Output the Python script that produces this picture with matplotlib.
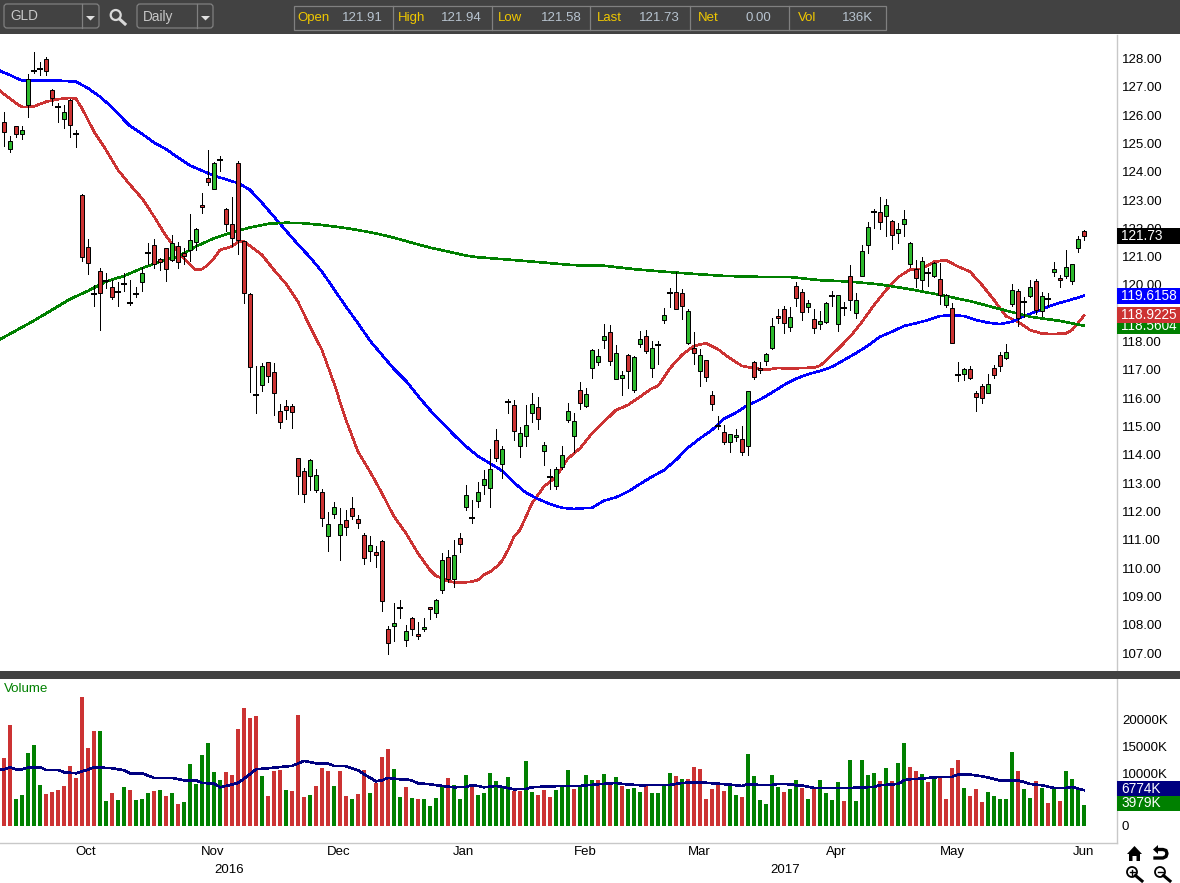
import matplotlib
matplotlib.use('Agg')
import matplotlib.pyplot as plt
from matplotlib.patches import Rectangle, FancyBboxPatch, Circle, Polygon

plt.rcParams['font.family'] = ['Liberation Sans', 'DejaVu Sans']

# Daily GLD candles, one value per session
opens = [125.75, 124.82, 125.63, 125.33, 126.34, 127.57, 127.64, 127.97, 126.88, 126.27,
         125.85, 126.53, 125.32, 123.17, 121.33, 119.69, 120.49, 120.14, 119.92, 119.76,
         120.02, 119.36, 119.67, 120.09, 121.14, 121.40, 120.91, 121.30, 120.89, 121.36,
         121.12, 121.22, 121.51, 122.82, 123.77, 123.38, 124.40, 122.68, 122.15, 124.30,
         121.55, 119.67, 116.12, 116.46, 117.27, 116.92, 115.54, 115.71, 115.71, 113.88,
         113.42, 113.24, 112.75, 112.68, 111.12, 111.90, 111.16, 111.69, 112.11, 111.72,
         111.16, 110.59, 110.56, 110.95, 107.84, 107.94, 108.58, 107.45, 108.23, 107.66,
         107.84, 108.61, 108.40, 109.21, 110.38, 109.60, 111.05, 112.15, 111.77, 112.38,
         112.92, 112.84, 114.51, 113.67, 115.87, 115.75, 114.32, 114.65, 115.49, 115.68,
         114.12, 113.23, 112.91, 113.58, 115.24, 114.65, 116.28, 115.71, 117.06, 117.29,
         118.07, 118.33, 116.67, 116.73, 117.51, 116.30, 117.93, 118.19, 117.06, 117.88,
         118.75, 119.73, 119.74, 119.70, 117.96, 117.76, 116.95, 117.34, 116.13, 115.03,
         114.79, 114.44, 114.62, 114.55, 114.30, 117.27, 117.05, 117.30, 117.76, 118.89,
         119.14, 118.50, 119.95, 119.74, 119.21, 118.79, 118.61, 118.68, 119.62, 118.61,
         119.20, 120.31, 119.02, 120.33, 121.40, 122.59, 122.57, 122.42, 122.25, 121.82,
         122.14, 120.75, 120.55, 120.19, 120.41, 120.32, 120.20, 119.29, 119.17, 116.81,
         116.87, 117.02, 116.17, 116.42, 116.20, 117.05, 117.51, 117.43, 119.34, 119.77,
         119.40, 119.62, 120.13, 119.07, 119.52, 120.47, 120.23, 120.31, 120.15, 121.32,
         121.91]
closes = [125.40, 125.08, 125.33, 125.47, 127.29, 127.57, 127.64, 127.57, 126.62, 126.27,
          126.10, 125.64, 125.32, 120.98, 120.79, 119.69, 119.73, 120.14, 119.56, 119.76,
          120.02, 119.36, 119.67, 120.42, 121.14, 120.74, 120.82, 120.56, 121.47, 120.80,
          121.02, 121.58, 121.97, 122.75, 123.65, 124.30, 124.40, 122.15, 121.65, 121.58,
          119.73, 117.09, 116.12, 117.13, 116.77, 116.17, 115.15, 115.57, 115.52, 113.24,
          112.61, 113.81, 113.28, 111.76, 111.55, 112.15, 111.55, 111.44, 111.83, 111.58,
          110.37, 110.81, 110.45, 108.83, 107.35, 108.05, 108.58, 107.77, 107.84, 107.59,
          107.91, 108.54, 108.86, 110.27, 109.60, 110.45, 110.84, 112.57, 111.77, 112.68,
          113.13, 113.49, 113.90, 114.19, 115.87, 114.85, 114.76, 115.04, 115.78, 115.25,
          114.33, 113.23, 113.49, 113.98, 115.54, 115.18, 115.84, 116.14, 117.69, 117.48,
          118.19, 117.30, 117.59, 116.81, 116.95, 117.44, 118.08, 117.68, 117.76, 117.88,
          118.93, 119.73, 119.14, 119.25, 119.07, 117.59, 117.51, 116.74, 115.78, 115.03,
          114.47, 114.72, 114.71, 114.11, 116.24, 116.74, 116.98, 117.55, 118.54, 118.82,
          118.67, 118.86, 119.53, 119.03, 119.35, 118.47, 118.72, 119.35, 119.62, 119.63,
          119.20, 119.46, 119.46, 121.19, 122.04, 122.59, 122.24, 122.81, 121.75, 121.97,
          122.32, 121.47, 120.26, 120.84, 120.41, 120.76, 119.66, 119.66, 117.96, 116.81,
          117.02, 116.73, 116.06, 116.02, 116.49, 116.83, 117.13, 117.65, 119.81, 118.82,
          119.40, 119.92, 119.13, 119.60, 119.52, 120.55, 120.16, 120.62, 120.73, 121.61,
          121.73]
highs = [126.10, 125.27, 125.63, 125.62, 127.44, 128.23, 127.88, 128.04, 126.93, 126.42,
         126.35, 126.58, 125.48, 123.21, 121.63, 120.00, 120.60, 120.42, 120.18, 120.11,
         120.42, 120.18, 119.92, 120.65, 121.47, 121.63, 120.94, 121.32, 121.76, 121.53,
         121.30, 122.50, 122.00, 123.24, 124.77, 124.33, 124.56, 122.71, 123.10, 124.38,
         121.55, 119.71, 117.14, 117.23, 117.28, 117.23, 115.80, 115.94, 115.80, 113.88,
         113.52, 113.84, 113.50, 112.78, 111.97, 112.32, 112.11, 112.05, 112.51, 111.86,
         111.23, 111.12, 110.77, 110.98, 107.97, 108.76, 108.87, 107.98, 108.28, 108.10,
         108.24, 108.64, 108.90, 110.52, 110.64, 110.99, 111.23, 112.94, 112.41, 113.05,
         113.46, 114.19, 114.93, 114.31, 115.96, 115.92, 114.97, 115.76, 116.17, 116.04,
         114.44, 113.49, 113.56, 114.31, 115.82, 115.48, 116.56, 116.35, 117.75, 117.74,
         118.61, 118.57, 117.87, 116.96, 117.56, 117.49, 118.37, 118.41, 118.01, 118.01,
         119.17, 119.88, 120.46, 119.85, 119.14, 118.33, 117.73, 117.35, 116.24, 115.37,
         115.04, 114.74, 114.91, 115.02, 116.24, 117.30, 117.27, 117.60, 118.82, 119.14,
         119.26, 119.22, 120.09, 119.86, 119.46, 119.14, 119.08, 119.40, 119.78, 119.63,
         119.41, 120.70, 119.72, 121.41, 122.21, 122.67, 123.11, 123.04, 122.30, 122.18,
         122.65, 121.51, 120.88, 120.98, 120.59, 120.80, 120.78, 119.67, 119.35, 117.27,
         117.06, 117.13, 116.25, 116.49, 116.84, 117.16, 117.62, 117.90, 120.03, 119.85,
         119.56, 120.17, 120.20, 119.74, 119.72, 120.81, 120.35, 121.22, 120.75, 121.72,
         121.94]
lows = [124.92, 124.68, 125.24, 125.17, 125.95, 127.50, 127.43, 127.43, 126.34, 125.74,
        125.55, 125.24, 124.89, 120.86, 120.39, 119.24, 118.41, 119.90, 119.52, 119.26,
        119.80, 119.29, 119.59, 119.80, 120.74, 120.60, 120.53, 120.14, 120.86, 120.61,
        120.74, 120.83, 121.22, 122.56, 123.54, 123.38, 124.04, 121.89, 121.36, 121.10,
        119.38, 116.23, 115.49, 116.27, 116.57, 115.41, 114.96, 115.28, 114.96, 112.62,
        112.35, 112.76, 112.67, 111.50, 110.62, 111.78, 110.29, 111.17, 111.73, 111.43,
        110.15, 110.26, 110.05, 108.50, 106.98, 107.44, 108.23, 107.26, 107.65, 107.48,
        107.79, 108.21, 108.28, 109.13, 109.52, 109.34, 110.58, 112.05, 111.58, 112.17,
        112.61, 112.17, 113.78, 113.17, 115.49, 114.52, 113.93, 114.31, 115.16, 114.92,
        113.64, 112.81, 112.81, 113.49, 115.16, 114.10, 115.63, 115.68, 116.73, 117.18,
        117.77, 117.18, 116.67, 116.12, 116.36, 116.22, 117.82, 117.61, 116.76, 117.22,
        118.67, 119.23, 119.14, 118.81, 117.91, 117.21, 116.43, 116.62, 115.58, 114.92,
        114.39, 114.10, 114.50, 114.01, 114.01, 116.69, 116.90, 117.18, 117.74, 118.67,
        118.32, 118.39, 119.27, 118.76, 119.05, 118.32, 118.45, 118.67, 119.26, 118.39,
        118.94, 119.12, 118.83, 120.32, 121.14, 122.03, 121.97, 121.74, 121.28, 121.50,
        121.74, 120.65, 119.94, 119.86, 119.96, 120.27, 119.33, 119.23, 117.94, 116.61,
        116.64, 116.67, 115.55, 115.84, 116.17, 116.73, 116.96, 117.40, 119.27, 118.56,
        118.88, 119.56, 118.98, 118.91, 119.27, 120.32, 119.94, 120.26, 120.03, 121.17,
        121.58]

# Volume in thousands of shares, r/g is the colour of each bar
volumes = [12915, 19026, 5040, 5796, 13734, 15246, 7686, 5985, 6363, 6741,
           7497, 11277, 9009, 24318, 14679, 17892, 17892, 4662, 6174, 4851,
           7308, 6741, 4851, 5040, 6174, 6552, 6741, 5607, 6174, 4095,
           4473, 11655, 7875, 13356, 15624, 10143, 8631, 10143, 9576, 18270,
           22239, 20349, 20727, 9387, 5607, 10332, 10521, 6741, 6552, 20916,
           5418, 5796, 7497, 10899, 10332, 7497, 10332, 5607, 5040, 5985,
           10521, 6174, 8064, 12978, 14490, 10710, 5418, 7308, 5229, 5040,
           5040, 3717, 5229, 7686, 9009, 7686, 5040, 9576, 7497, 5796,
           6174, 9954, 8442, 7119, 9198, 6552, 6552, 12222, 6363, 5796,
           6741, 5418, 6741, 7497, 10521, 6930, 7497, 9576, 8631, 8631,
           9765, 8253, 9198, 7497, 6930, 7119, 6363, 7686, 6174, 6174,
           7686, 9954, 9387, 8820, 8820, 11088, 10710, 5040, 6930, 7686,
           6552, 7686, 5796, 5418, 13545, 9387, 4851, 4095, 9576, 7308,
           6363, 6930, 8631, 7119, 5040, 6930, 8631, 6174, 4851, 8253,
           4662, 12411, 4662, 12411, 9576, 9954, 8442, 10899, 8442, 11844,
           15624, 11088, 10332, 9765, 8253, 9198, 9198, 5040, 10899, 12411,
           7119, 5607, 6930, 4473, 6363, 5607, 5040, 5040, 13923, 10332,
           6930, 5229, 8442, 7119, 4284, 6930, 4662, 10332, 8820, 7119,
           3979]
volume_dirs = ('rrgggggrrr' 'rrrrrrggrg' 'grgggrgrgr' 'gggggggrrr' 'rrrgrrrgrr'
               'rgrrrgrrgr' 'rgrrrggrgr' 'ggggrgggrg' 'gggggrrggr' 'rrgggrgggr'
               'grgrgggrgg' 'ggrgrrrrrr' 'rggrgggggg' 'rggrgrgggg' 'rgggggrgrg'
               'grrgrgrrrr' 'grrrgggggr' 'ggrgrgrggg' 'g')

# Moving averages, sampled along the curves: session index and value
red_idx = [-1, 0, 2, 3, 4, 5, 7, 9, 11, 12, 13, 15, 17, 19, 21, 23, 25, 27, 29, 31, 32, 33, 34,
           35, 36, 37, 38, 39, 40, 41, 43, 45, 47, 49, 51, 53, 55, 57, 59, 61, 63, 65, 67, 69,
           71, 72, 73, 74, 75, 77, 78, 79, 80, 81, 82, 83, 84, 85, 86, 87, 88, 90, 91, 92, 94,
           96, 98, 100, 102, 104, 106, 108, 109, 111, 113, 115, 117, 119, 121, 123, 125, 127,
           129, 131, 133, 135, 136, 137, 139, 141, 143, 145, 147, 149, 151, 153, 155, 157, 159,
           161, 163, 165, 167, 169, 171, 173, 175, 177, 178, 179, 180]
red_ma = [126.91, 126.74, 126.42, 126.29, 126.29, 126.31, 126.47, 126.56, 126.61, 126.58, 126.24,
          125.42, 124.77, 124.06, 123.54, 123.06, 122.42, 121.73, 121.18, 120.71, 120.53, 120.56,
          120.71, 120.94, 121.24, 121.30, 121.36, 121.53, 121.53, 121.38, 121.06, 120.53, 120.04,
          119.41, 118.53, 117.70, 116.53, 115.23, 114.11, 113.41, 112.64, 111.82, 111.23, 110.52,
          109.93, 109.72, 109.64, 109.54, 109.50, 109.50, 109.52, 109.58, 109.76, 109.87, 110.03,
          110.25, 110.64, 111.11, 111.35, 111.82, 112.29, 112.88, 113.05, 113.23, 113.87, 114.23,
          114.76, 115.17, 115.58, 115.76, 116.05, 116.35, 116.43, 117.06, 117.53, 117.85, 117.94,
          117.73, 117.41, 117.14, 117.06, 117.00, 117.07, 117.04, 117.07, 117.08, 117.15, 117.33,
          117.74, 118.17, 118.70, 119.29, 119.82, 120.27, 120.55, 120.57, 120.82, 120.88, 120.65,
          120.47, 120.00, 119.47, 118.90, 118.70, 118.41, 118.28, 118.27, 118.29, 118.41, 118.65,
          118.92]

blue_idx = [-1, 0, 1, 2, 3, 4, 8, 10, 12, 14, 16, 18, 20, 21, 23, 25, 27, 29, 31, 33, 35, 37, 39,
            41, 43, 45, 47, 49, 51, 53, 55, 57, 59, 61, 63, 65, 67, 69, 71, 73, 75, 77, 79, 81,
            83, 85, 87, 89, 91, 93, 95, 97, 98, 100, 102, 104, 106, 108, 110, 112, 114, 116,
            118, 120, 122, 124, 126, 128, 130, 132, 134, 136, 138, 140, 142, 144, 146, 148, 150,
            152, 154, 156, 158, 160, 162, 164, 166, 168, 170, 172, 174, 176, 178, 180]
blue_ma = [127.60, 127.50, 127.42, 127.31, 127.23, 127.22, 127.22, 127.21, 127.18, 126.95, 126.65,
           126.28, 125.83, 125.62, 125.34, 125.03, 124.80, 124.50, 124.22, 124.04, 123.86, 123.73,
           123.60, 123.36, 122.90, 122.41, 121.92, 121.43, 120.98, 120.47, 119.85, 119.23, 118.65,
           118.03, 117.53, 117.03, 116.61, 116.08, 115.58, 115.15, 114.70, 114.30, 113.95, 113.70,
           113.44, 113.02, 112.66, 112.44, 112.26, 112.13, 112.09, 112.12, 112.13, 112.38, 112.50,
           112.70, 112.97, 113.23, 113.46, 113.82, 114.25, 114.58, 114.88, 115.27, 115.49, 115.76,
           115.95, 116.20, 116.47, 116.69, 116.85, 116.96, 117.11, 117.35, 117.59, 117.86, 118.17,
           118.35, 118.55, 118.65, 118.76, 118.90, 118.94, 118.90, 118.76, 118.67, 118.62, 118.70,
           118.90, 119.06, 119.23, 119.37, 119.49, 119.62]

green_idx = [-1, 2, 5, 8, 11, 14, 17, 20, 23, 26, 29, 32, 35, 38, 41, 44, 47, 50, 53, 56, 59, 62,
             65, 68, 71, 74, 77, 79, 85, 90, 95, 100, 105, 110, 115, 120, 125, 131, 136, 141, 146,
             151, 156, 161, 166, 171, 176, 180]
green_ma = [118.04, 118.39, 118.74, 119.12, 119.50, 119.79, 120.12, 120.32, 120.59, 120.83, 121.00,
            121.36, 121.65, 121.86, 122.03, 122.16, 122.20, 122.18, 122.12, 122.04, 121.94, 121.82,
            121.67, 121.49, 121.32, 121.18, 121.04, 120.98, 120.88, 120.79, 120.70, 120.68, 120.56,
            120.47, 120.39, 120.32, 120.29, 120.28, 120.17, 120.12, 120.02, 119.85, 119.65, 119.43,
            119.15, 118.88, 118.73, 118.56]

vol_ma_idx = [-1, 0, 1, 2, 3, 4, 6, 7, 9, 10, 12, 14, 15, 18, 20, 21, 23, 25, 28, 30, 32, 33, 35,
              36, 38, 39, 41, 42, 44, 48, 49, 50, 52, 54, 55, 57, 59, 60, 62, 63, 64, 66, 67, 68,
              69, 71, 73, 75, 77, 78, 79, 80, 82, 83, 85, 87, 88, 91, 96, 99, 102, 103, 106, 111,
              113, 116, 118, 121, 122, 123, 124, 126, 128, 129, 131, 132, 133, 135, 141, 145, 146,
              149, 150, 151, 153, 155, 158, 159, 161, 163, 165, 166, 169, 171, 173, 175, 177, 178,
              179, 180]
vol_ma = [10710, 10710, 11088, 10710, 10710, 11025, 11088, 10584, 10584, 10143, 9954, 10647, 11088,
          10899, 10521, 9954, 9954, 9072, 9072, 8631, 8631, 8127, 8001, 7308, 7812, 8127, 9765,
          10710, 10899, 11340, 11781, 12285, 11844, 11781, 11340, 11277, 10521, 9765, 8442, 8631,
          9072, 8820, 8820, 8568, 8064, 7875, 7560, 7308, 7371, 7686, 7560, 7308, 7560, 7371, 6930,
          6993, 7308, 7497, 7560, 7875, 8127, 7938, 7686, 7749, 8127, 8253, 8064, 7812, 7686, 7560,
          7875, 7749, 7749, 7938, 7875, 7686, 7623, 7182, 7182, 7371, 7686, 7938, 8631, 8820, 8946,
          9198, 9261, 9702, 9702, 9387, 8883, 8568, 8631, 7938, 7686, 7182, 7182, 7371, 7056, 6774]

month_labels = ['Oct', 'Nov', 'Dec', 'Jan', 'Feb', 'Mar', 'Apr', 'May', 'Jun']
month_pos = [13.67, 34.83, 55.83, 76.5, 96.83, 115.83, 138.67, 158, 180]
year_labels = ['2016', '2017']
year_pos = [37.5, 130.17]

price_ticks = [p for p in range(107, 129) if p != 119]  # 119 sits under the flags
volume_ticks = [0, 10000, 15000, 20000]
quote_fields = ['Open', 'High', 'Low', 'Last', 'Net', 'Vol']
quote_values = ['121.91', '121.94', '121.58', '121.73', '0.00', '136K']

last_price = 121.73
ma_last = {'blue': 119.6158, 'red': 118.9225, 'green': 118.5604}
vol_ma_last = 6774
vol_last = 3979

RED = '#CC3333'
CANDLE_GREEN = '#2DB92D'
VOL_GREEN = '#008000'
NAVY = '#000080'
DARK = '#424242'
GRID = '#C8C8C8'
FS = 9.5

W, H = 1180, 883
fig = plt.figure(figsize=(W/100, H/100), dpi=100, facecolor='white')
ax = fig.add_axes([0, (H-671)/H, 1117/W, (671-35)/H])
vax = fig.add_axes([0, (H-843)/H, 1117/W, (843-679)/H])

for a in (ax, vax):
    a.set_xlim(-4/6, (1117-4)/6)
    for side in ('top', 'left', 'bottom'):
        a.spines[side].set_visible(False)
    a.spines['right'].set_color(GRID)
    a.spines['right'].set_linewidth(1.0)
    a.yaxis.tick_right()
    a.tick_params(axis='y', length=0, pad=3.5, labelsize=FS, labelcolor='black')

ax.set_ylim(128-(671-58.5)/28.31, 128+(58.5-35)/28.31)
vax.set_ylim(-(843-826)/0.0053, (826-679)/0.0053)
vax.spines['bottom'].set_visible(True)
vax.spines['bottom'].set_color(GRID)
vax.spines['bottom'].set_linewidth(1.0)

# moving averages go under the candles
for idx, vals, col in ((red_idx, red_ma, RED), (blue_idx, blue_ma, 'blue'), (green_idx, green_ma, VOL_GREEN)):
    ax.plot(idx, vals, color=col, lw=1.15, zorder=1, antialiased=False)

# candles
sessions = range(len(closes))
ax.vlines(sessions, lows, highs, color='black', lw=0.72, zorder=2, antialiased=False)
for i in sessions:
    o, c = opens[i], closes[i]
    if o == c:
        ax.hlines(c, i-0.42, i+0.42, color='black', lw=1.2, zorder=3, antialiased=False)
    else:
        ax.bar(i, abs(c-o), bottom=min(o, c), width=0.74, color=CANDLE_GREEN if c > o else RED,
               edgecolor='black', linewidth=0.72, zorder=3)

ax.set_xticks([])
ax.set_yticks(price_ticks)
ax.set_yticklabels(['{:.2f}'.format(p) for p in price_ticks])

# volume pane
bar_cols = [VOL_GREEN if d == 'g' else RED for d in volume_dirs]
vax.bar(sessions, volumes, width=0.667, color=bar_cols, linewidth=0, zorder=2)
vax.plot(vol_ma_idx, vol_ma, color=NAVY, lw=1.15, zorder=3, antialiased=False)
vax.set_yticks(volume_ticks)
vax.set_yticklabels(['0' if v == 0 else '{}K'.format(v) for v in volume_ticks])
vax.set_xticks(month_pos)
vax.set_xticklabels(month_labels)
vax.set_xticks(year_pos, minor=True)
vax.set_xticklabels(year_labels, minor=True)
vax.tick_params(axis='x', which='major', length=0, pad=2.5, labelsize=FS)
vax.tick_params(axis='x', which='minor', length=0, pad=15, labelsize=FS)


def add_flag(a, value, label, color, height, shift, z):
    # value box sitting on the price scale, right of the plot
    trans = a.get_yaxis_transform()
    a.add_patch(Rectangle((1.0, value-height/2+shift), 63/1117, height, transform=trans,
                          facecolor=color, edgecolor='none', clip_on=False, zorder=z))
    a.text(1.0+4/1117, value+shift, label, transform=trans, color='white', fontsize=FS+0.3,
           va='center', ha='left', clip_on=False, zorder=z+0.1)


h_price = 16/28.31
add_flag(ax, ma_last['green'], '{:.4f}'.format(ma_last['green']), VOL_GREEN, h_price, 0, 5)
add_flag(ax, ma_last['blue'], '{:.4f}'.format(ma_last['blue']), 'blue', h_price, 0, 6)
add_flag(ax, ma_last['red'], '{:.4f}'.format(ma_last['red']), RED, h_price, 0, 7)
add_flag(ax, last_price, '{:.2f}'.format(last_price), 'black', h_price, 0, 8)
add_flag(vax, vol_ma_last, '{}K'.format(vol_ma_last), NAVY, 15/0.0053, 1.5/0.0053, 5)
add_flag(vax, vol_last, '{}K'.format(vol_last), VOL_GREEN, 15.5/0.0053, 1.5/0.0053, 6)

# toolbar, separator and buttons are drawn in pixel space on a transparent overlay
ui = fig.add_axes([0, 0, 1, 1], zorder=10)
ui.set_xlim(0, W)
ui.set_ylim(H, 0)
ui.axis('off')
ui.add_patch(Rectangle((0, 0), W, 34, facecolor=DARK, edgecolor='none'))
ui.add_patch(Rectangle((0, 671), W, 8, facecolor=DARK, edgecolor='none'))
ui.text(4, 689, 'Volume', color=VOL_GREEN, fontsize=9.6, va='center', ha='left')

BOX = '#808080'
TXT = '#C8C8C8'
for x0, x1, div, label in ((4, 99, 82, 'GLD'), (137, 213, 197, 'Daily')):
    ui.add_patch(FancyBboxPatch((x0, 4), x1-x0, 24, boxstyle='round,pad=0,rounding_size=3',
                                facecolor='none', edgecolor=BOX, lw=0.9))
    ui.plot([div, div], [4, 28], color=BOX, lw=0.9)
    ui.add_patch(Polygon([(div+4, 16), (div+13, 16), (div+8.5, 20.5)], facecolor='#E0E0E0', edgecolor='none'))
    ui.text(x0+6, 16.5, label, color=TXT, fontsize=9.8, va='center', ha='left')
ui.add_patch(Circle((115.7, 15), 5, facecolor='none', edgecolor='#D8D8D8', lw=1.6))
ui.plot([119.5, 125], [19, 24], color='#D8D8D8', lw=2.2)

ui.add_patch(Rectangle((293.5, 5.5), 592.5, 24, facecolor='none', edgecolor=BOX, lw=0.9))
for x in (392.5, 492, 590, 690, 788.5):
    ui.plot([x, x], [5.5, 29.5], color=BOX, lw=0.9)
field_x = [297, 398, 498, 597, 698, 798]
value_x = [342, 441, 541, 639, 745, 842]
for fx, vx, name, val in zip(field_x, value_x, quote_fields, quote_values):
    ui.text(fx, 18, name, color='#F0C800', fontsize=9.5, va='center', ha='left')
    ui.text(vx, 18, val, color='#B8C4D0', fontsize=9.5, va='center', ha='left')

# home, undo, zoom in, zoom out
ui.add_patch(Polygon([(1134.5, 846), (1142, 854), (1140, 854), (1140, 861), (1136.5, 861), (1136.5, 856),
                      (1132.5, 856), (1132.5, 861), (1129, 861), (1129, 854), (1127, 854)],
                     facecolor='black', edgecolor='none'))
ui.plot([1157, 1163, 1166, 1167, 1166, 1163, 1155], [849.5, 849.5, 850.5, 853.5, 856.5, 858, 858],
        color='black', lw=2.4)
ui.add_patch(Polygon([(1153, 849.5), (1158, 845), (1158, 854)], facecolor='black', edgecolor='none'))
for cx, plus in ((1132, True), (1160, False)):
    ui.add_patch(Circle((cx, 872), 5, facecolor='none', edgecolor='black', lw=1.3))
    ui.plot([cx+3.5, cx+10], [875.5, 881], color='black', lw=2.2)
    ui.plot([cx-2.5, cx+2.5], [872, 872], color='black', lw=1.0)
    if plus:
        ui.plot([cx, cx], [869.5, 874.5], color='black', lw=1.0)

fig.savefig('out.png', dpi=100)
